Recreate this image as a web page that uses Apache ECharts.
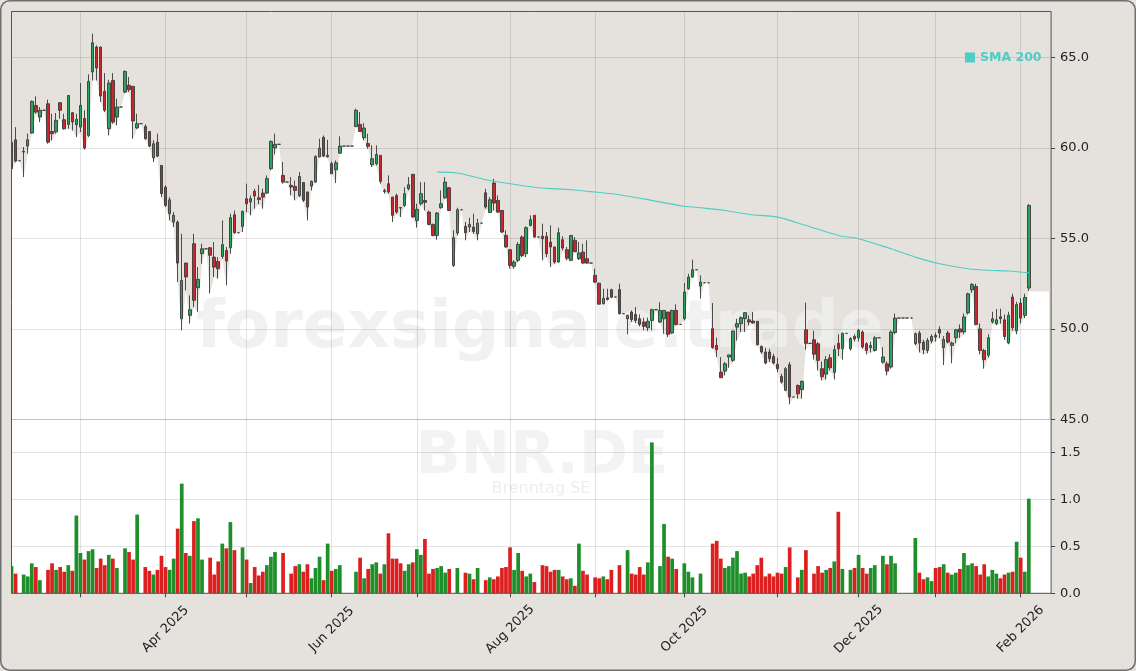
<!DOCTYPE html>
<html>
<head>
<meta charset="utf-8">
<title>BNR.DE</title>
<script src="https://cdn.jsdelivr.net/npm/echarts@6/dist/echarts.min.js"></script>
<style>
  html, body { margin: 0; padding: 0; background: #e5e2dd; }
  #chart { width: 1136px; height: 671px; }
</style>
</head>
<body>
<div id="chart"></div>
<script>
// daily candles from 2025-02-06, one row per trading day: [open, close, low, high]
const candles = [
  [58.86, 60.33, 58.77, 61.07], [60.46, 59.28, 59.21, 61.16], [59.30, 59.30, 59.30, 59.30], [59.78, 59.82, 58.40, 60.06],
  [60.11, 60.46, 59.69, 60.80], [60.83, 62.58, 60.80, 62.64], [62.36, 61.99, 61.90, 62.86], [61.72, 62.09, 61.44, 62.27],
  [62.09, 62.09, 62.09, 62.09], [62.45, 60.33, 60.24, 62.68], [60.92, 60.80, 60.43, 61.90], [60.89, 61.53, 60.80, 61.94],
  [62.51, 62.09, 61.63, 62.55], [61.57, 61.07, 61.02, 61.90], [61.31, 62.91, 61.07, 62.93], [61.96, 61.44, 60.98, 61.99],
  [61.29, 61.59, 60.61, 61.90], [61.16, 62.36, 60.89, 63.60], [61.64, 60.00, 59.91, 62.09], [60.70, 63.69, 60.61, 64.08],
  [64.21, 65.83, 63.74, 66.33], [65.59, 64.43, 63.74, 65.68], [65.59, 62.88, 62.55, 65.62], [63.14, 62.09, 61.99, 64.15],
  [61.07, 63.60, 60.70, 63.78], [63.74, 61.44, 61.35, 64.15], [61.72, 62.27, 61.26, 62.73], [62.27, 62.27, 62.27, 62.27],
  [63.10, 64.24, 63.04, 64.30], [63.47, 63.23, 63.10, 63.93], [63.41, 61.50, 60.52, 63.45], [61.11, 61.35, 61.07, 61.90],
  [61.35, 61.35, 61.35, 61.35], [61.20, 60.52, 60.46, 61.31], [60.92, 60.11, 60.06, 60.93], [59.47, 60.24, 59.23, 60.43],
  [60.33, 59.56, 59.50, 60.80], [59.04, 57.48, 57.29, 59.05], [57.84, 56.83, 56.74, 57.94], [56.37, 57.14, 56.00, 57.29],
  [55.91, 56.28, 55.63, 56.46], [55.91, 53.64, 52.59, 56.00], [50.56, 52.68, 49.92, 55.26], [53.64, 52.87, 52.13, 53.65],
  [50.75, 51.06, 50.29, 51.85], [54.71, 51.58, 51.21, 55.26], [52.28, 52.74, 50.94, 53.42], [54.16, 54.43, 53.60, 54.71],
  [54.43, 54.43, 54.43, 54.43], [54.49, 54.07, 51.96, 54.53], [53.97, 53.42, 52.87, 54.80], [53.73, 53.33, 52.78, 53.97],
  [54.01, 54.66, 53.88, 56.00], [54.34, 53.75, 52.41, 54.53], [54.49, 56.15, 54.16, 56.37], [56.31, 55.32, 55.26, 56.55],
  [55.32, 55.32, 55.32, 55.32], [55.67, 56.50, 55.36, 56.55], [57.20, 56.92, 56.46, 58.03], [57.02, 57.20, 56.28, 57.38],
  [57.61, 57.35, 56.65, 57.75], [57.25, 57.15, 56.90, 57.97], [57.51, 57.29, 56.65, 57.75], [57.51, 58.31, 57.48, 58.49],
  [58.86, 60.37, 58.77, 60.43], [60.02, 60.21, 59.65, 60.80], [60.21, 60.21, 60.21, 60.21], [58.49, 58.12, 58.03, 59.23],
  [58.12, 58.12, 58.12, 58.12], [57.94, 57.85, 57.38, 58.40], [57.88, 57.66, 57.11, 58.21], [57.38, 58.43, 57.29, 58.67],
  [58.10, 57.11, 57.02, 58.12], [57.57, 56.74, 56.00, 57.60], [57.90, 58.16, 57.66, 58.21], [58.12, 59.54, 58.10, 59.60],
  [59.51, 60.00, 59.50, 60.52], [60.59, 59.56, 59.50, 60.70], [59.52, 59.60, 59.47, 60.46], [59.14, 58.58, 58.57, 59.26],
  [58.80, 59.19, 58.07, 59.32], [59.72, 60.11, 59.69, 60.65], [60.11, 60.11, 60.11, 60.11], [60.11, 60.11, 60.11, 60.11],
  [60.11, 60.11, 60.11, 60.11], [61.20, 62.09, 61.16, 62.18], [61.31, 60.92, 60.89, 61.99], [60.57, 61.11, 60.43, 61.38],
  [60.25, 60.10, 59.96, 60.80], [59.08, 59.41, 58.95, 60.15], [59.14, 59.65, 59.04, 60.15], [59.60, 58.16, 58.03, 59.62],
  [57.60, 57.66, 57.48, 57.75], [58.03, 57.57, 57.48, 58.49], [57.29, 56.28, 55.91, 57.30], [57.38, 56.46, 56.37, 57.48],
  [56.72, 56.68, 56.19, 56.74], [56.83, 57.48, 56.74, 57.84], [57.75, 57.97, 57.66, 58.40], [58.55, 56.19, 56.15, 58.56],
  [56.00, 56.61, 55.60, 56.92], [56.92, 57.48, 56.83, 58.12], [57.10, 57.00, 56.55, 58.12], [56.46, 55.78, 55.73, 56.55],
  [55.78, 55.17, 55.12, 55.82], [55.17, 56.41, 54.93, 56.46], [56.70, 56.92, 56.65, 57.66], [57.25, 58.12, 57.20, 58.40],
  [57.81, 56.55, 56.51, 57.85], [53.51, 55.04, 53.42, 55.45], [55.30, 56.59, 55.17, 56.70], [56.59, 56.59, 56.59, 56.59],
  [55.67, 55.32, 54.90, 55.91], [55.63, 55.78, 55.36, 56.15], [55.63, 55.39, 55.26, 56.37], [55.26, 55.85, 54.90, 56.09],
  [55.85, 55.85, 55.85, 55.85], [57.53, 56.74, 56.65, 57.75], [56.44, 57.14, 56.41, 57.29], [58.07, 56.96, 56.55, 58.30],
  [57.11, 56.46, 56.41, 57.38], [56.55, 55.36, 55.30, 56.56], [55.17, 54.53, 54.49, 55.45], [54.38, 53.51, 53.33, 54.40],
  [53.46, 53.70, 53.33, 53.79], [53.79, 54.67, 53.70, 54.80], [55.08, 54.06, 53.97, 55.17], [54.16, 55.60, 53.97, 55.67],
  [55.72, 56.04, 55.67, 56.28], [56.28, 55.08, 55.04, 56.30], [55.08, 55.08, 55.08, 55.08], [55.12, 54.99, 53.79, 55.82],
  [55.12, 54.16, 53.97, 55.36], [54.80, 54.53, 53.42, 55.73], [54.53, 53.70, 53.60, 54.55], [53.70, 55.32, 53.66, 55.60],
  [54.93, 54.47, 54.34, 55.12], [54.38, 53.91, 53.79, 54.53], [53.79, 55.17, 53.75, 55.18], [54.90, 54.27, 54.25, 55.08],
  [53.88, 54.20, 53.82, 54.80], [54.25, 53.64, 53.60, 54.71], [53.88, 53.64, 53.60, 54.90], [53.64, 53.64, 53.64, 53.64],
  [52.96, 52.59, 52.53, 53.33], [52.53, 51.37, 51.35, 52.55], [51.39, 51.70, 51.36, 52.22], [51.72, 51.63, 51.57, 52.22],
  [52.17, 51.76, 51.70, 52.22], [51.76, 51.76, 51.76, 51.76], [52.17, 50.84, 50.80, 52.50], [50.84, 50.84, 50.84, 50.84],
  [50.56, 50.75, 49.70, 50.76], [50.93, 50.52, 50.38, 51.02], [50.80, 50.47, 50.32, 51.21], [50.56, 50.25, 50.14, 50.80],
  [50.38, 50.14, 49.92, 50.62], [50.06, 50.42, 49.88, 50.62], [50.47, 51.06, 49.92, 51.12], [51.06, 51.06, 51.06, 51.06],
  [50.38, 51.02, 50.32, 51.48], [50.56, 51.02, 49.73, 51.03], [50.93, 49.70, 49.55, 50.94], [49.77, 51.02, 49.73, 51.06],
  [51.02, 50.25, 50.19, 51.36], [50.25, 50.25, 50.25, 50.25], [50.56, 52.04, 50.47, 52.54], [52.22, 52.87, 52.17, 53.05],
  [52.87, 53.27, 52.83, 53.83], [53.27, 53.27, 53.27, 53.27], [52.37, 52.59, 51.67, 52.96], [52.55, 52.55, 52.55, 52.55],
  [52.55, 52.55, 52.55, 52.55], [50.01, 48.96, 48.90, 51.43], [49.09, 48.85, 48.44, 49.51], [47.61, 47.30, 47.29, 48.44],
  [47.67, 48.07, 47.43, 48.17], [48.44, 48.56, 47.85, 48.57], [48.26, 49.88, 48.17, 49.92], [50.10, 50.29, 49.36, 50.56],
  [50.29, 50.62, 49.83, 50.69], [50.56, 50.90, 49.83, 50.93], [50.50, 50.38, 50.19, 50.75], [50.43, 50.33, 50.29, 50.93],
  [50.42, 49.12, 49.09, 50.43], [49.03, 48.72, 48.63, 49.09], [48.72, 48.11, 48.04, 48.96], [48.72, 48.35, 48.17, 48.90],
  [48.48, 48.11, 48.04, 48.63], [48.04, 47.80, 47.61, 48.40], [47.37, 47.06, 46.97, 47.52], [46.60, 47.80, 46.56, 47.89],
  [48.02, 46.23, 45.83, 48.17], [46.23, 46.23, 46.23, 46.23], [46.87, 46.41, 46.14, 46.93], [46.64, 47.10, 46.14, 47.15],
  [49.95, 49.20, 48.85, 51.45], [49.20, 49.20, 49.20, 49.20], [49.40, 48.60, 48.30, 49.90], [49.18, 48.26, 47.70, 49.27],
  [47.80, 47.35, 47.15, 48.20], [47.50, 48.30, 47.20, 48.50], [48.40, 47.85, 47.70, 48.60], [47.60, 48.85, 47.20, 49.10],
  [49.20, 48.90, 48.50, 49.70], [48.90, 49.75, 48.30, 49.80], [49.75, 49.75, 49.75, 49.75], [48.90, 49.46, 48.80, 49.55],
  [49.58, 49.44, 49.30, 49.70], [49.51, 49.92, 49.30, 50.00], [49.83, 49.00, 48.90, 49.92], [49.18, 48.81, 48.59, 49.27],
  [48.96, 49.09, 48.70, 49.30], [48.81, 49.51, 48.75, 49.60], [49.51, 49.51, 49.51, 49.51], [48.16, 48.45, 48.07, 48.99],
  [48.07, 47.67, 47.43, 48.20], [47.89, 49.83, 47.80, 49.92], [49.80, 50.60, 49.70, 50.85], [50.60, 50.60, 50.60, 50.60],
  [50.60, 50.60, 50.60, 50.60], [50.60, 50.60, 50.60, 50.60], [50.60, 50.60, 50.60, 50.60], [49.18, 49.73, 49.10, 49.80],
  [49.77, 49.22, 48.70, 49.90], [49.27, 48.85, 48.60, 49.40], [48.81, 49.36, 48.65, 49.50], [49.33, 49.58, 49.20, 49.70],
  [49.64, 49.55, 49.30, 49.80], [49.97, 49.77, 49.50, 50.15], [48.96, 49.42, 48.00, 49.60], [49.77, 49.27, 49.20, 49.90],
  [49.09, 49.22, 48.10, 49.30], [49.51, 49.95, 49.20, 50.00], [50.00, 49.83, 49.50, 50.25], [49.83, 50.66, 49.70, 50.85],
  [50.88, 51.94, 50.80, 52.00], [52.16, 52.46, 52.00, 52.54], [52.35, 50.25, 50.20, 52.50], [50.00, 48.81, 48.60, 50.30],
  [48.81, 48.30, 47.80, 48.90], [48.54, 49.51, 48.40, 49.70], [50.38, 50.56, 50.30, 50.95], [50.29, 50.50, 50.20, 51.10],
  [50.67, 50.56, 50.29, 51.12], [50.50, 49.58, 49.40, 50.80], [49.22, 50.75, 49.15, 50.95], [51.76, 50.07, 49.90, 51.95],
  [49.90, 51.35, 49.70, 51.50], [51.43, 50.60, 50.30, 51.70], [50.75, 51.74, 50.60, 51.95], [52.26, 56.83, 52.10, 56.90]
];

// volume in millions, same days as candles
const volumes = [
  0.29, 0.21, 0, 0.20, 0.18, 0.32, 0.28, 0.14, 0, 0.25,
  0.32, 0.25, 0.28, 0.23, 0.30, 0.24, 0.83, 0.43, 0.36, 0.45,
  0.47, 0.27, 0.37, 0.30, 0.41, 0.37, 0.27, 0, 0.48, 0.44,
  0.36, 0.84, 0, 0.28, 0.24, 0.20, 0.25, 0.40, 0.28, 0.25,
  0.37, 0.69, 1.17, 0.43, 0.40, 0.77, 0.80, 0.36, 0, 0.38,
  0.20, 0.34, 0.53, 0.48, 0.76, 0.46, 0, 0.49, 0.36, 0.11,
  0.28, 0.19, 0.23, 0.30, 0.39, 0.44, 0, 0.43, 0, 0.21,
  0.29, 0.31, 0.23, 0.31, 0.16, 0.27, 0.39, 0.14, 0.53, 0.24,
  0.26, 0.30, 0, 0, 0, 0.23, 0.38, 0.16, 0.26, 0.31,
  0.33, 0.21, 0.31, 0.64, 0.37, 0.37, 0.32, 0.24, 0.31, 0.33,
  0.47, 0.41, 0.58, 0.21, 0.26, 0.27, 0.29, 0.22, 0.26, 0,
  0.27, 0, 0.22, 0.21, 0.15, 0.27, 0, 0.14, 0.17, 0.15,
  0.18, 0.27, 0.28, 0.49, 0.25, 0.43, 0.24, 0.18, 0.21, 0.12,
  0, 0.30, 0.29, 0.23, 0.25, 0.25, 0.18, 0.15, 0.16, 0.08,
  0.53, 0.24, 0.20, 0, 0.17, 0.16, 0.18, 0.15, 0.25, 0,
  0.30, 0, 0.46, 0.21, 0.20, 0.28, 0.20, 0.33, 1.61, 0,
  0.29, 0.74, 0.39, 0.37, 0.26, 0, 0.32, 0.23, 0.17, 0,
  0.21, 0, 0, 0.53, 0.56, 0.37, 0.27, 0.29, 0.38, 0.45,
  0.21, 0.22, 0.18, 0.21, 0.30, 0.38, 0.18, 0.21, 0.18, 0.22,
  0.21, 0.28, 0.49, 0, 0.17, 0.25, 0.46, 0, 0.21, 0.29,
  0.22, 0.25, 0.27, 0.34, 0.87, 0.26, 0, 0.25, 0.27, 0.41,
  0.27, 0.21, 0.27, 0.30, 0, 0.40, 0.31, 0.40, 0.32, 0,
  0, 0, 0, 0.59, 0.22, 0.15, 0.17, 0.13, 0.27, 0.28,
  0.31, 0.22, 0.20, 0.22, 0.26, 0.43, 0.30, 0.32, 0.29, 0.20,
  0.31, 0.18, 0.25, 0.21, 0.16, 0.20, 0.22, 0.23, 0.55, 0.38,
  0.23, 1.01
];

// SMA 200 readings: [day number in the list above, value]
const sma200 = [
  [105, 58.67], [110, 58.62], [117, 58.25], [123, 58.03], [130, 57.81], [138, 57.70],
  [144, 57.57], [150, 57.42], [158, 57.11], [166, 56.78], [171, 56.68], [176, 56.55],
  [182, 56.33], [189, 56.18], [196, 55.72], [204, 55.17], [209, 54.99], [217, 54.43],
  [223, 53.97], [229, 53.60], [236, 53.33], [241, 53.24], [246, 53.20], [251, 53.10]
];

// white band level after the last candle (empty days at the right edge)
const shadeTail = [52.07, 52.07, 52.07, 52.07, 52.07];

const holidays = ['2025-04-18', '2025-04-21', '2025-05-01', '2025-12-24',
  '2025-12-25', '2025-12-26', '2025-12-31', '2026-01-01'];
const monthNames = ['Jan', 'Feb', 'Mar', 'Apr', 'May', 'Jun', 'Jul', 'Aug', 'Sep', 'Oct', 'Nov', 'Dec'];

function tradingDays(start, count) {
  const out = [];
  const d = new Date(start + 'T00:00:00Z');
  while (out.length < count) {
    const s = d.toISOString().slice(0, 10);
    const wd = d.getUTCDay();
    if (wd !== 0 && wd !== 6 && holidays.indexOf(s) < 0) out.push(s);
    d.setUTCDate(d.getUTCDate() + 1);
  }
  return out;
}

const dates = tradingDays('2025-02-06', candles.length + shadeTail.length);
const monthStart = dates.map((s, i) => i > 0 && s.slice(0, 7) !== dates[i - 1].slice(0, 7));
const monthTick = (i) => monthStart[i];
const labelTick = (i) => monthStart[i] && (+dates[i].slice(5, 7)) % 2 === 0;

const shade = candles.map(c => c[2]).concat(shadeTail);
const volumeBars = volumes.map((v, i) => ({
  value: v,
  itemStyle: { color: candles[i][1] >= candles[i][0] ? '#1f8f2a' : '#dc2020' }
}));

const bg = '#e5e2dd';
const font = 'DejaVu Sans';
const gridLine = { show: true, lineStyle: { color: 'rgba(0,0,0,0.11)', width: 1 } };

const chart = echarts.init(document.getElementById('chart'));
chart.setOption({
  animation: false,
  backgroundColor: bg,
  textStyle: { fontFamily: font },
  legend: {
    data: ['SMA 200'],
    left: 960,
    top: 46,
    icon: 'rect',
    itemWidth: 10,
    itemHeight: 10,
    itemGap: 4,
    selectedMode: false,
    textStyle: { color: '#4ecdc4', fontWeight: 'bold', fontSize: 12.5, fontFamily: font }
  },
  grid: [
    { left: 9.5, width: 1041.6, top: 11.5, height: 407.8, outerBoundsMode: 'none' },
    { left: 9.5, width: 1041.6, top: 419.3, height: 174, show: true, backgroundColor: '#ffffff',
      borderWidth: 0, outerBoundsMode: 'none' }
  ],
  xAxis: [
    {
      type: 'category', gridIndex: 0, data: dates, z: 1,
      axisLine: { show: false }, axisTick: { show: false }, axisLabel: { show: false },
      splitLine: Object.assign({ interval: monthTick, alignWithLabel: true }, gridLine)
    },
    {
      type: 'category', gridIndex: 1, data: dates, z: 1,
      axisLine: { show: false },
      axisTick: { show: true, interval: monthTick, alignWithLabel: true, length: 4, lineStyle: { color: '#444' } },
      axisLabel: {
        interval: labelTick, rotate: 45, margin: 36, align: 'center', verticalAlign: 'middle',
        color: '#222', fontSize: 13, fontFamily: font,
        formatter: (s) => monthNames[+s.slice(5, 7) - 1] + ' ' + s.slice(0, 4)
      },
      splitLine: Object.assign({ interval: monthTick, alignWithLabel: true }, gridLine)
    }
  ],
  yAxis: [
    {
      type: 'value', gridIndex: 0, position: 'right', min: 45, max: 67.555, interval: 5, z: 1,
      axisLine: { show: false },
      axisTick: { show: true, length: 4, lineStyle: { color: '#444' } },
      axisLabel: { margin: 9, color: '#222', fontSize: 13, fontFamily: font, showMaxLabel: false,
        formatter: (v) => v.toFixed(1) },
      splitLine: gridLine
    },
    {
      type: 'value', gridIndex: 1, position: 'right', min: 0, max: 1.8564, interval: 0.5, z: 1,
      axisLine: { show: false },
      axisTick: { show: true, length: 4, lineStyle: { color: '#444' } },
      axisLabel: { margin: 9, color: '#222', fontSize: 13, fontFamily: font, showMaxLabel: false,
        formatter: (v) => v.toFixed(1) },
      splitLine: gridLine
    }
  ],
  series: [
    {
      name: 'shade', type: 'line', xAxisIndex: 0, yAxisIndex: 0, data: shade,
      symbol: 'none', silent: true, z: 0,
      lineStyle: { width: 0, opacity: 0 },
      areaStyle: { color: '#ffffff', opacity: 1, origin: 'start' }
    },
    {
      name: 'BNR.DE', type: 'candlestick', xAxisIndex: 0, yAxisIndex: 0, data: candles,
      barWidth: 3, z: 3,
      itemStyle: { color: '#2ba35f', color0: '#c8282d', borderColor: '#3a3a3a', borderColor0: '#3a3a3a', borderWidth: 0.9 }
    },
    {
      name: 'SMA 200', type: 'line', xAxisIndex: 0, yAxisIndex: 0, data: sma200,
      symbol: 'none', smooth: 0.3, z: 4,
      lineStyle: { color: '#4ecdc4', width: 1.1 },
      itemStyle: { color: '#4ecdc4' }
    },
    {
      name: 'Volume', type: 'bar', xAxisIndex: 1, yAxisIndex: 1, data: volumeBars,
      barWidth: 3.7, z: 3
    }
  ],
  graphic: [
    { type: 'text', x: 540, y: 330, z: 0.5, silent: true,
      style: { text: 'forexsignale.trade', font: 'bold 66px "DejaVu Sans"', fill: 'rgba(238,238,238,0.85)',
        textAlign: 'center', textVerticalAlign: 'middle', align: 'center', verticalAlign: 'middle' } },
    { type: 'text', x: 542, y: 458, z: 0.5, silent: true,
      style: { text: 'BNR.DE', font: 'bold 59px "DejaVu Sans"', fill: 'rgba(241,241,241,0.85)',
        textAlign: 'center', textVerticalAlign: 'middle', align: 'center', verticalAlign: 'middle' } },
    { type: 'text', x: 541, y: 489, z: 0.5, silent: true,
      style: { text: 'Brenntag SE', font: '16px "DejaVu Sans"', fill: 'rgba(236,236,236,0.9)',
        textAlign: 'center', textVerticalAlign: 'middle', align: 'center', verticalAlign: 'middle' } },
    { type: 'rect', z: 9, silent: true, shape: { x: 0, y: 0, width: 11, height: 671 }, style: { fill: bg } },
    { type: 'rect', z: 10, silent: true, shape: { x: 11.5, y: 11.5, width: 1039.6, height: 581.8 },
      style: { fill: 'none', stroke: '#555', lineWidth: 1 } },
    { type: 'rect', z: 11, silent: true, shape: { x: 0.75, y: 0.75, width: 1134.5, height: 669.5, r: 9 },
      style: { fill: 'none', stroke: '#6e6e6e', lineWidth: 1.5 } }
  ]
});
</script>
</body>
</html>
